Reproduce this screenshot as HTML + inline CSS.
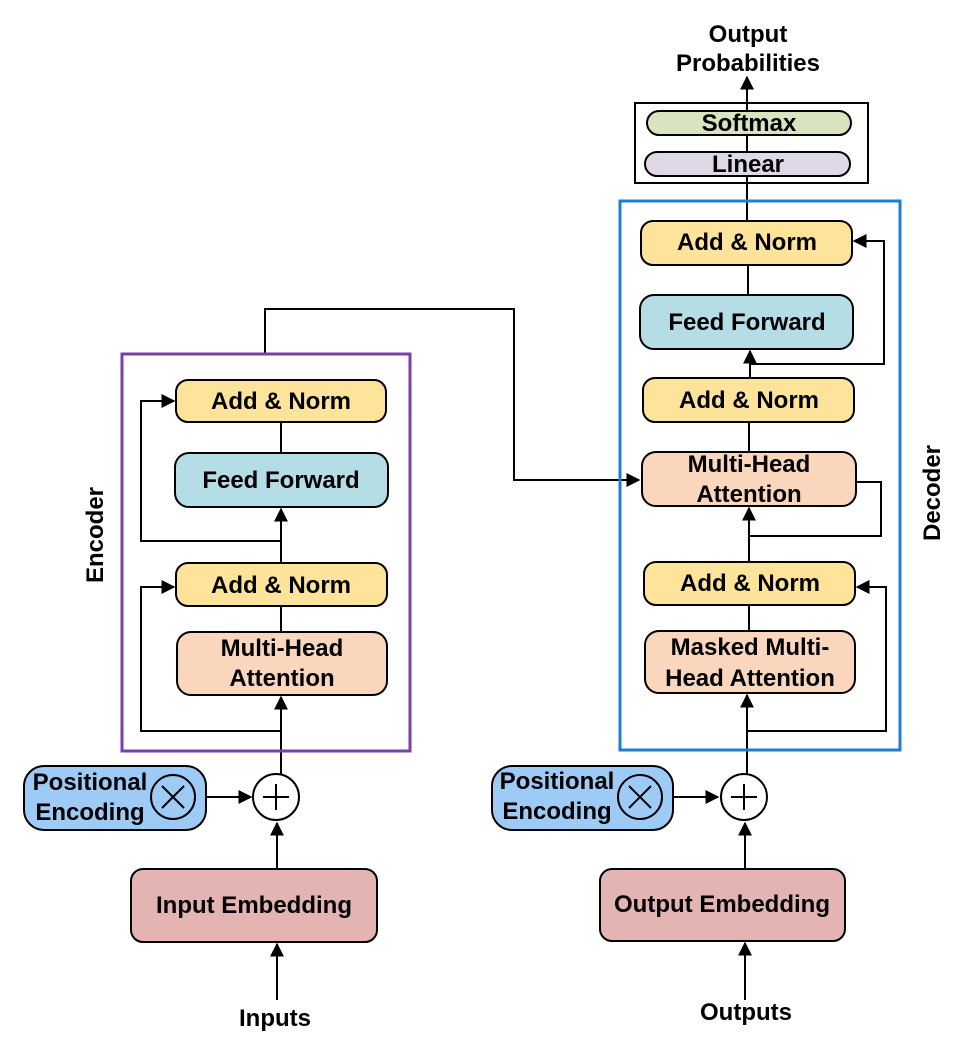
<!DOCTYPE html>
<html><head><meta charset="utf-8"><style>body{margin:0;background:#fff}svg{display:block}text{font-family:"Liberation Sans",Arial,sans-serif;font-weight:bold;fill:#000;text-anchor:middle}</style></head><body>
<svg width="969" height="1055" viewBox="0 0 969 1055" xmlns="http://www.w3.org/2000/svg">
<defs><marker id="a" viewBox="0 0 10 10" refX="9" refY="5" markerWidth="7" markerHeight="7" orient="auto"><path d="M0,0L10,5L0,10z" fill="#000"/></marker></defs>
<g stroke="#000" stroke-width="2" fill="none">
<line x1="281" y1="774" x2="281" y2="697" marker-end="url(#a)"/>
<polyline points="281,731 141,731 141,587 174,587" marker-end="url(#a)"/>
<line x1="281" y1="606" x2="281" y2="632"/>
<line x1="281" y1="563" x2="281" y2="509" marker-end="url(#a)"/>
<polyline points="281,541 141,541 141,401 174,401" marker-end="url(#a)"/>
<line x1="281" y1="422" x2="281" y2="453"/>
<polyline points="265,354 265,309 514,309 514,480 639,480" marker-end="url(#a)"/>
<line x1="206" y1="797" x2="251" y2="797" marker-end="url(#a)"/>
<line x1="277" y1="869" x2="277" y2="823" marker-end="url(#a)"/>
<line x1="277" y1="1000" x2="277" y2="944" marker-end="url(#a)"/>
<line x1="747" y1="774" x2="747" y2="695" marker-end="url(#a)"/>
<polyline points="747,731 886,731 886,587 857,587" marker-end="url(#a)"/>
<line x1="749" y1="605" x2="749" y2="631"/>
<line x1="749" y1="562" x2="749" y2="508" marker-end="url(#a)"/>
<polyline points="856,482 881,482 881,536 749,536"/>
<line x1="749" y1="422" x2="749" y2="452"/>
<line x1="750" y1="378" x2="750" y2="351" marker-end="url(#a)"/>
<polyline points="750,364 884,364 884,241 854,241" marker-end="url(#a)"/>
<line x1="748" y1="265" x2="748" y2="295"/>
<line x1="747" y1="221" x2="747" y2="77" marker-end="url(#a)"/>
<line x1="673" y1="797" x2="718" y2="797" marker-end="url(#a)"/>
<line x1="745" y1="869" x2="745" y2="823" marker-end="url(#a)"/>
<line x1="745" y1="1000" x2="745" y2="943" marker-end="url(#a)"/>
</g>
<rect x="122" y="354" width="288" height="397" fill="none" stroke="#7b3fa9" stroke-width="3"/>
<rect x="620" y="201" width="280" height="549" fill="none" stroke="#1e7fcf" stroke-width="3"/>
<rect x="635" y="103" width="233" height="80" fill="none" stroke="#000" stroke-width="2"/>
<g stroke="#000" stroke-width="2">
<rect x="647" y="111" width="204" height="24" rx="12" fill="#d7e4bf"/>
<rect x="645" y="152" width="205" height="24" rx="12" fill="#e0d8e6"/>
<rect x="176" y="380" width="210" height="42" rx="12" fill="#fde49a"/>
<rect x="175" y="453" width="213" height="54" rx="14" fill="#b5dde6"/>
<rect x="176" y="563" width="211" height="43" rx="12" fill="#fde49a"/>
<rect x="177" y="632" width="210" height="63" rx="14" fill="#f9d6bc"/>
<rect x="641" y="221" width="211" height="44" rx="12" fill="#fde49a"/>
<rect x="640" y="295" width="213" height="54" rx="14" fill="#b5dde6"/>
<rect x="643" y="378" width="211" height="44" rx="12" fill="#fde49a"/>
<rect x="642" y="452" width="214" height="54" rx="14" fill="#f9d6bc"/>
<rect x="644" y="562" width="211" height="43" rx="12" fill="#fde49a"/>
<rect x="645" y="631" width="210" height="62" rx="14" fill="#f9d6bc"/>
<rect x="24" y="766" width="182" height="64" rx="20" fill="#9ecbf5"/>
<rect x="492" y="766" width="181" height="64" rx="20" fill="#9ecbf5"/>
<rect x="131" y="869" width="246" height="73" rx="12" fill="#e3b4b1"/>
<rect x="600" y="869" width="245" height="72" rx="12" fill="#e3b4b1"/>
<circle cx="173" cy="797" r="22" fill="none"/>
<circle cx="640" cy="797" r="22" fill="none"/>
<circle cx="276" cy="797" r="23" fill="#fff"/>
<circle cx="744" cy="797" r="23" fill="#fff"/>
<path d="M162,786L184,808M184,786L162,808M629,786L651,808M651,786L629,808M263,797H289M276,784V810M731,797H757M744,784V810" fill="none"/>
</g>
<g font-size="24">
<text x="749" y="131">Softmax</text>
<text x="748" y="172">Linear</text>
<text x="281" y="409">Add &amp; Norm</text>
<text x="281" y="488">Feed Forward</text>
<text x="281" y="593">Add &amp; Norm</text>
<text x="282" y="656">Multi-Head</text>
<text x="282" y="686">Attention</text>
<text x="747" y="250">Add &amp; Norm</text>
<text x="747" y="330">Feed Forward</text>
<text x="749" y="408">Add &amp; Norm</text>
<text x="749" y="472">Multi-Head</text>
<text x="749" y="502">Attention</text>
<text x="750" y="591">Add &amp; Norm</text>
<text x="750" y="655">Masked Multi-</text>
<text x="750" y="686">Head Attention</text>
<text x="90" y="790">Positional</text>
<text x="90" y="820">Encoding</text>
<text x="557" y="789">Positional</text>
<text x="557" y="819">Encoding</text>
<text x="254" y="913">Input Embedding</text>
<text x="722" y="912">Output Embedding</text>
<text x="275" y="1026">Inputs</text>
<text x="746" y="1020">Outputs</text>
<text x="748" y="42">Output</text>
<text x="748" y="71">Probabilities</text>
<text transform="translate(103,535) rotate(-90)">Encoder</text>
<text transform="translate(940,493) rotate(-90)">Decoder</text>
</g>
</svg>
</body></html>
